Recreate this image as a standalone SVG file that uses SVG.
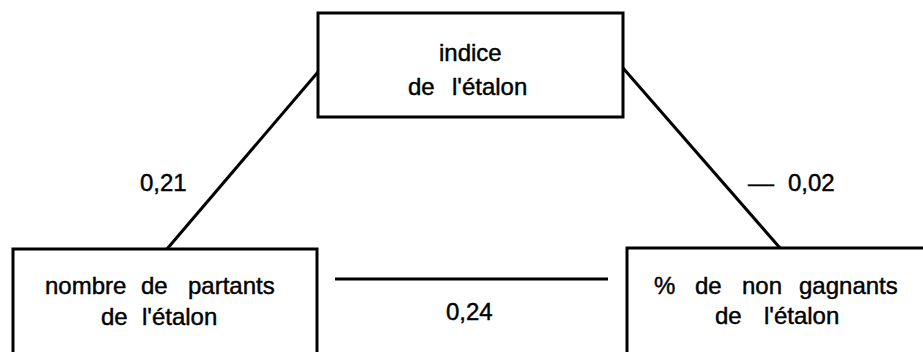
<svg xmlns="http://www.w3.org/2000/svg" width="923" height="352" viewBox="0 0 923 352">
  <style>
    .box { fill: #fff; stroke: #000; stroke-width: 3; }
    .link { stroke: #000; stroke-width: 3; fill: none; }
    text { font-family: "Liberation Sans", Arial, sans-serif; font-size: 24px; fill: #000; stroke: #000; stroke-width: 0.45; }
  </style>
  <rect width="923" height="352" fill="#fff"/>
  <g id="connectors">
    <line class="link" x1="318" y1="72" x2="167" y2="249"/>
    <line class="link" x1="623" y1="68" x2="780" y2="248"/>
    <line class="link" x1="335" y1="279" x2="608" y2="279"/>
    <text x="140" y="191">0,21</text>
    <text y="191"><tspan x="748" textLength="26" lengthAdjust="spacingAndGlyphs">—</tspan> <tspan x="788">0,02</tspan></text>
    <text x="446" y="320">0,24</text>
  </g>
  <g id="indice">
    <rect class="box" x="318" y="13" width="305" height="104"/>
    <text x="439" y="61">indice</text>
    <text y="95"><tspan x="408">de</tspan> <tspan x="452">l'étalon</tspan></text>
  </g>
  <g id="partants">
    <rect class="box" x="13" y="249" width="304" height="120"/>
    <text y="294"><tspan x="45">nombre</tspan> <tspan x="141">de</tspan> <tspan x="188">partants</tspan></text>
    <text y="325"><tspan x="101">de</tspan> <tspan x="142">l'étalon</tspan></text>
  </g>
  <g id="gagnants">
    <rect class="box" x="627" y="248" width="310" height="120"/>
    <text y="294"><tspan x="654">%</tspan> <tspan x="695">de</tspan> <tspan x="742">non</tspan> <tspan x="799">gagnants</tspan></text>
    <text y="324"><tspan x="715">de</tspan> <tspan x="764">l'étalon</tspan></text>
  </g>
</svg>
